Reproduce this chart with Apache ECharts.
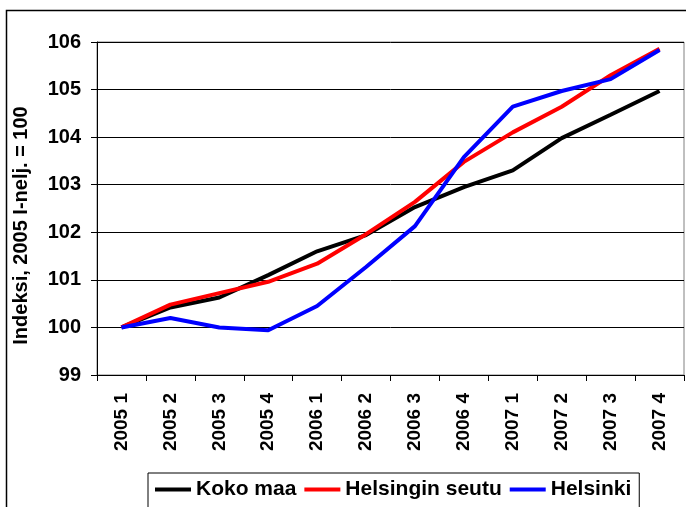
<!DOCTYPE html>
<html>
<head>
<meta charset="utf-8">
<script src="https://cdn.jsdelivr.net/npm/echarts@6/dist/echarts.min.js"></script>
<style>
html, body { margin: 0; padding: 0; background: #fff; }
#chart { width: 686px; height: 507px; }
</style>
</head>
<body>
<div id="chart"></div>
<script>
// vuosineljännekset
var quarters = ['2005 1', '2005 2', '2005 3', '2005 4', '2006 1', '2006 2',
                '2006 3', '2006 4', '2007 1', '2007 2', '2007 3', '2007 4'];
// indeksit, 2005 I-nelj. = 100
var kokoMaa = [100.0, 100.42, 100.63, 101.1, 101.6, 101.94, 102.53, 102.95, 103.3, 103.98, 104.47, 104.97];
var helsinginSeutu = [100.0, 100.48, 100.72, 100.96, 101.34, 101.96, 102.64, 103.48, 104.1, 104.64, 105.3, 105.86];
var helsinki = [100.0, 100.2, 100.0, 99.94, 100.45, 101.27, 102.13, 103.58, 104.64, 104.97, 105.22, 105.83];
var yTicks = [99, 100, 101, 102, 103, 104, 105, 106];

var chart = echarts.init(document.getElementById('chart'));
var fontFamily = '"Liberation Sans", Arial, sans-serif';

function lineSeries(name, data, color) {
    return {
        name: name,
        type: 'line',
        data: data,
        symbol: 'none',
        lineStyle: { color: color, width: 4 },
        itemStyle: { color: color }
    };
}

var option = {
    animation: false,
    backgroundColor: '#fff',
    grid: {
        left: 97,
        top: 42,
        right: 2,
        bottom: 132,
        show: true,
        borderColor: '#808080',
        borderWidth: 1
    },
    legend: {
        left: 148,
        top: 473,
        padding: [6, 8, 20, 7],
        itemGap: 8,
        itemWidth: 36,
        itemHeight: 4,
        icon: 'rect',
        borderColor: '#000',
        borderWidth: 1,
        textStyle: { fontFamily: fontFamily, fontWeight: 'bold', fontSize: 21, color: '#000' },
        data: ['Koko maa', 'Helsingin seutu', 'Helsinki']
    },
    xAxis: {
        type: 'category',
        data: quarters,
        boundaryGap: true,
        axisLine: { lineStyle: { color: '#000', width: 1 } },
        axisTick: { show: true, length: 6, inside: false, lineStyle: { color: '#000' } },
        axisLabel: {
            rotate: 90,
            margin: 18,
            color: '#000',
            fontFamily: fontFamily,
            fontWeight: 'bold',
            fontSize: 19
        }
    },
    yAxis: {
        type: 'value',
        min: yTicks[0],
        max: yTicks[yTicks.length - 1],
        interval: 1,
        name: 'Indeksi, 2005 I-nelj. = 100',
        nameLocation: 'middle',
        nameGap: 66,
        nameTextStyle: { fontFamily: fontFamily, fontWeight: 'bold', fontSize: 20, color: '#000', padding: [0, 0, 0, -34] },
        axisLine: { show: true, lineStyle: { color: '#000', width: 1 } },
        axisTick: { show: true, length: 6, lineStyle: { color: '#000' } },
        axisLabel: {
            margin: 16,
            color: '#000',
            fontFamily: fontFamily,
            fontWeight: 'bold',
            fontSize: 20
        },
        splitLine: { show: true, lineStyle: { color: '#000', width: 1 } }
    },
    graphic: [{
        type: 'rect',
        shape: { x: 6.5, y: 10.5, width: 720, height: 520 },
        style: { fill: 'none', stroke: '#000', lineWidth: 1.5 },
        z: 100
    }],
    series: [
        lineSeries('Koko maa', kokoMaa, '#000000'),
        lineSeries('Helsingin seutu', helsinginSeutu, '#ff0000'),
        lineSeries('Helsinki', helsinki, '#0000ff')
    ]
};
chart.setOption(option);
</script>
</body>
</html>
